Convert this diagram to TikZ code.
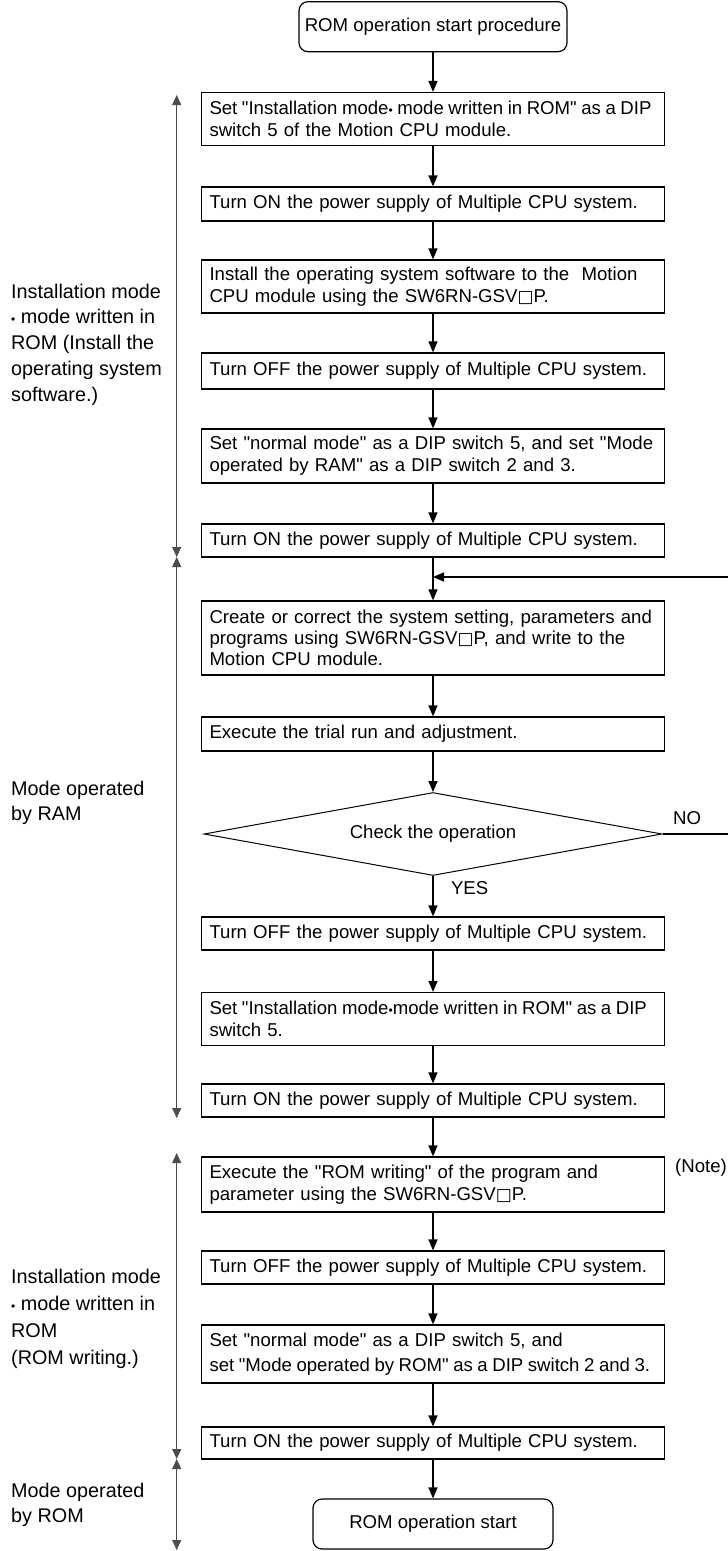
\documentclass[tikz,border=0pt]{standalone}
\usepackage{fontspec}
\setmainfont{Liberation Sans}[Ligatures=TeXOff]
\newfontfamily\dejavu{DejaVu Sans}
\usetikzlibrary{arrows.meta, shapes.geometric}
\newcommand{\sqbox}{{\dejavu\fontsize{17}{17}\selectfont □}}
\newcommand{\dotsep}{{\fontsize{12}{12}\selectfont •}}
\newcommand{\tightline}[1]{\mbox{\spaceskip=0.245em\relax #1}}

\begin{document}
\begin{tikzpicture}[
  x=1pt, y=-1pt,
  font=\fontsize{18.6}{22}\selectfont,
  procbox/.style  = {rectangle, draw=black, line width=1.2pt,
                     minimum width=463pt, minimum height=34pt,
                     text width=447pt, inner xsep=8pt, inner ysep=0pt,
                     align=left},
  twoline/.style  = {procbox, minimum height=53pt},
  terminal/.style = {rectangle, rounded corners=9pt, draw=black,
                     line width=1.2pt, minimum height=50pt, align=center},
  decide/.style   = {diamond, draw=black, line width=1pt, aspect=5.5,
                     minimum width=458pt, minimum height=83pt, inner sep=0pt},
  side/.style     = {align=left, anchor=west, inner sep=0pt,
                     font=\fontsize{19.8}{25.7}\selectfont},
  flow/.style     = {-{Triangle[length=11pt, width=9pt]}, line width=1.5pt},
  span/.style     = {{Triangle[length=10pt, width=9pt]}-{Triangle[length=10pt, width=9pt]},
                     line width=0.9pt, black!70}
]
\useasboundingbox (0,0) rectangle (728,1551);

% ---------- flow ----------
\node[terminal, minimum width=268pt] (start) at (433,26.7) {ROM operation start procedure};
\node[twoline] (setinst) at (433,119) {\tightline{Set "Installation mode\dotsep\ mode written in ROM" as a DIP}\\switch 5 of the Motion CPU module.};
\node[procbox] (on1) at (433,204) {Turn ON the power supply of Multiple CPU system.};
\node[twoline] (install) at (433,286.5) {Install the operating system software to the~ Motion\\CPU module using the SW6RN-GSV\sqbox P.};
\node[procbox, minimum height=36pt] (off1) at (433,371) {Turn OFF the power supply of Multiple CPU system.};
\node[twoline, minimum height=54pt] (setram) at (433,456) {\mbox{Set "normal mode" as a DIP switch 5, and set "Mode}\\operated by RAM" as a DIP switch 2 and 3.};
\node[procbox, minimum height=33pt] (on2) at (433,540.5) {Turn ON the power supply of Multiple CPU system.};
\node[procbox, minimum height=74pt, font=\fontsize{18.6}{21}\selectfont] (create) at (433,638)
  {\mbox{Create or correct the system setting, parameters and}\\programs using SW6RN-GSV\sqbox P, and write to the\\Motion CPU module.};
\node[procbox] (trial) at (433,734) {Execute the trial run and adjustment.};
\node[decide] (check) at (433,834) {Check the operation};
\node[procbox, minimum height=33pt] (off2) at (433,933.5) {Turn OFF the power supply of Multiple CPU system.};
\node[twoline] (setrom) at (433,1019) {\tightline{Set "Installation mode\dotsep mode written in ROM" as a DIP}\\switch 5.};
\node[procbox, minimum height=33pt] (on3) at (433,1100.5) {Turn ON the power supply of Multiple CPU system.};
\node[twoline, minimum height=55pt] (write) at (433,1184.5) {Execute the "ROM writing" of the program and\\parameter using the SW6RN-GSV\sqbox P.};
\node[procbox, minimum height=33pt] (off3) at (433,1267.5) {Turn OFF the power supply of Multiple CPU system.};
\node[twoline, minimum height=58pt, font=\fontsize{18.6}{25}\selectfont] (setnorm) at (433,1354)
  {Set "normal mode" as a DIP switch 5, and\\\tightline{set "Mode operated by ROM" as a DIP switch 2 and 3.}};
\node[procbox, minimum height=32pt] (on4) at (433,1443) {Turn ON the power supply of Multiple CPU system.};
\node[terminal, minimum width=240pt] (stop) at (433,1524) {ROM operation start};

\draw[flow] (start)   -- (setinst);
\draw[flow] (setinst) -- (on1);
\draw[flow] (on1)     -- (install);
\draw[flow] (install) -- (off1);
\draw[flow] (off1)    -- (setram);
\draw[flow] (setram)  -- (on2);
\draw[flow] (on2)     -- (create);
\draw[flow] (create)  -- (trial);
\draw[flow] (trial)   -- (check);
\draw[flow] (check)   -- (off2) node[pos=0.3, right=14pt] (yes) {YES};
\draw[flow] (off2)    -- (setrom);
\draw[flow] (setrom)  -- (on3);
\draw[flow] (on3)     -- (write);
\draw[flow] (write)   -- (off3);
\draw[flow] (off3)    -- (setnorm);
\draw[flow] (setnorm) -- (on4);
\draw[flow] (on4)     -- (stop);

% ---------- retry loop ----------
\coordinate (turn) at (740,577);
\draw[flow] (check.east) -| (turn) -- (on2.south |- turn);
\node[anchor=west, inner sep=0pt] (no) at (673,818) {NO};
\node[anchor=west, inner sep=0pt] (note) at (675,1168) {(Note)};

% ---------- mode spans ----------
\coordinate (m1) at (176.7,95);
\coordinate (m2) at (176.7,557);
\coordinate (m3) at (176.7,1118);
\coordinate (m4) at (176.7,1153);
\coordinate (m5) at (176.7,1459);
\coordinate (m6) at (176.7,1550);
\draw[span] (m2) -- (m1);
\draw[span] (m2) -- (m3);
\draw[span] (m4) -- (m5);
\draw[span] (m5) -- (m6);

\node[side] (instA) at (11,344.5) {Installation mode\\\dotsep\ mode written in\\ROM (Install the\\operating system\\software.)};
\node[side] (ram)   at (11,803)   {Mode operated\\by RAM};
\node[side, font=\fontsize{19.8}{27}\selectfont] (instB) at (11,1318.5) {Installation mode\\\dotsep\ mode written in\\ROM\\(ROM writing.)};
\node[side, font=\fontsize{19.8}{25}\selectfont] (rom) at (11,1504.5) {Mode operated\\by ROM};

\end{tikzpicture}
\end{document}
